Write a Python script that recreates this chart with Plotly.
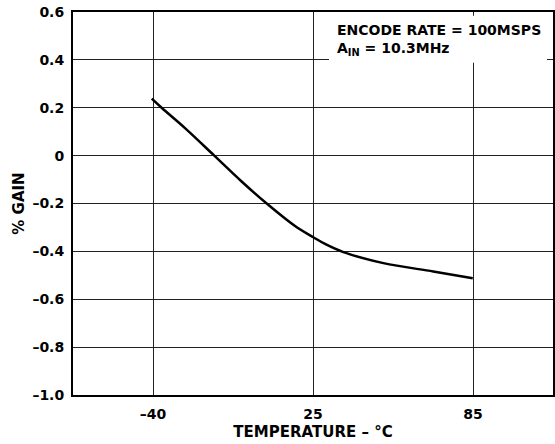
import numpy as np
import plotly.graph_objects as go

# Data
temperature_c = [-40.5, -36.5, -27, -15.1, -4.0, 6.2, 17.7, 25.1, 29.5, 36.4, 51.4, 70.1, 84.9]
gain_pct = [0.238, 0.2, 0.115, 0.0, -0.108, -0.2, -0.294, -0.341, -0.369, -0.403, -0.449, -0.484, -0.512]

x_tick_temps = [-40, 25, 85]
x_tick_labels = ["–40", "25", "85"]
y_tick_vals = [-1.0, -0.8, -0.6, -0.4, -0.2, 0, 0.2, 0.4, 0.6]
y_tick_labels = ["–1.0", "–0.8", "–0.6", "–0.4", "–0.2", "0", "0.2", "0.4", "0.6"]

# The chart's temperature axis is drawn with evenly spaced ticks
x_tick_pos = [1, 3, 5]
slope_left = (x_tick_pos[1] - x_tick_pos[0]) / (x_tick_temps[1] - x_tick_temps[0])
x_pos = [x_tick_pos[0] + (t - x_tick_temps[0]) * slope_left if t < x_tick_temps[0]
         else float(np.interp(t, x_tick_temps, x_tick_pos))
         for t in temperature_c]

FONT = "DejaVu Sans"

fig = go.Figure()
fig.add_trace(go.Scatter(
    x=x_pos, y=gain_pct, mode="lines",
    line=dict(color="black", width=2.5, shape="spline", smoothing=1.0),
    hoverinfo="skip", showlegend=False,
))

fig.add_shape(type="rect", xref="x", yref="y", x0=3.2, x1=5.925, y0=0.388, y1=0.5845,
              fillcolor="white", line=dict(width=0), layer="above")
fig.add_annotation(
    xref="x", yref="y", x=3.28, y=0.565, xanchor="left", yanchor="top",
    text="ENCODE RATE = 100MSPS<br>A<sub>IN</sub> = 10.3MHz",
    showarrow=False, align="left",
    font=dict(family=FONT, size=14, color="black", weight="bold"),
)

axis_common = dict(
    showline=True, linecolor="black", linewidth=2, mirror=True,
    showgrid=True, gridcolor="#222222", gridwidth=1, zeroline=False,
    ticks="", automargin=False, ticklabeloverflow="allow",
)

fig.update_layout(
    width=555, height=444,
    margin=dict(l=73, r=2, t=12, b=49),
    paper_bgcolor="white", plot_bgcolor="white",
    font=dict(family=FONT, size=14, color="black", weight="bold"),
    xaxis=dict(
        range=[0, 6], tickmode="array", tickvals=x_tick_pos, ticktext=x_tick_labels,
        tickfont=dict(family=FONT, size=14, color="black", weight="bold"),
        ticklabelstandoff=5,
        title=dict(text="TEMPERATURE – °C", standoff=6,
                   font=dict(family=FONT, size=15, color="black", weight="bold")),
        **axis_common,
    ),
    yaxis=dict(
        range=[-1.0, 0.6], tickmode="array", tickvals=y_tick_vals, ticktext=y_tick_labels,
        tickfont=dict(family=FONT, size=14, color="black", weight="bold"),
        ticklabelstandoff=4,
        title=dict(text="% GAIN", standoff=4,
                   font=dict(family=FONT, size=15, color="black", weight="bold")),
        **axis_common,
    ),
)

fig.write_html("out.html", config={"displayModeBar": False},
               post_script="document.body.style.margin='0';")
